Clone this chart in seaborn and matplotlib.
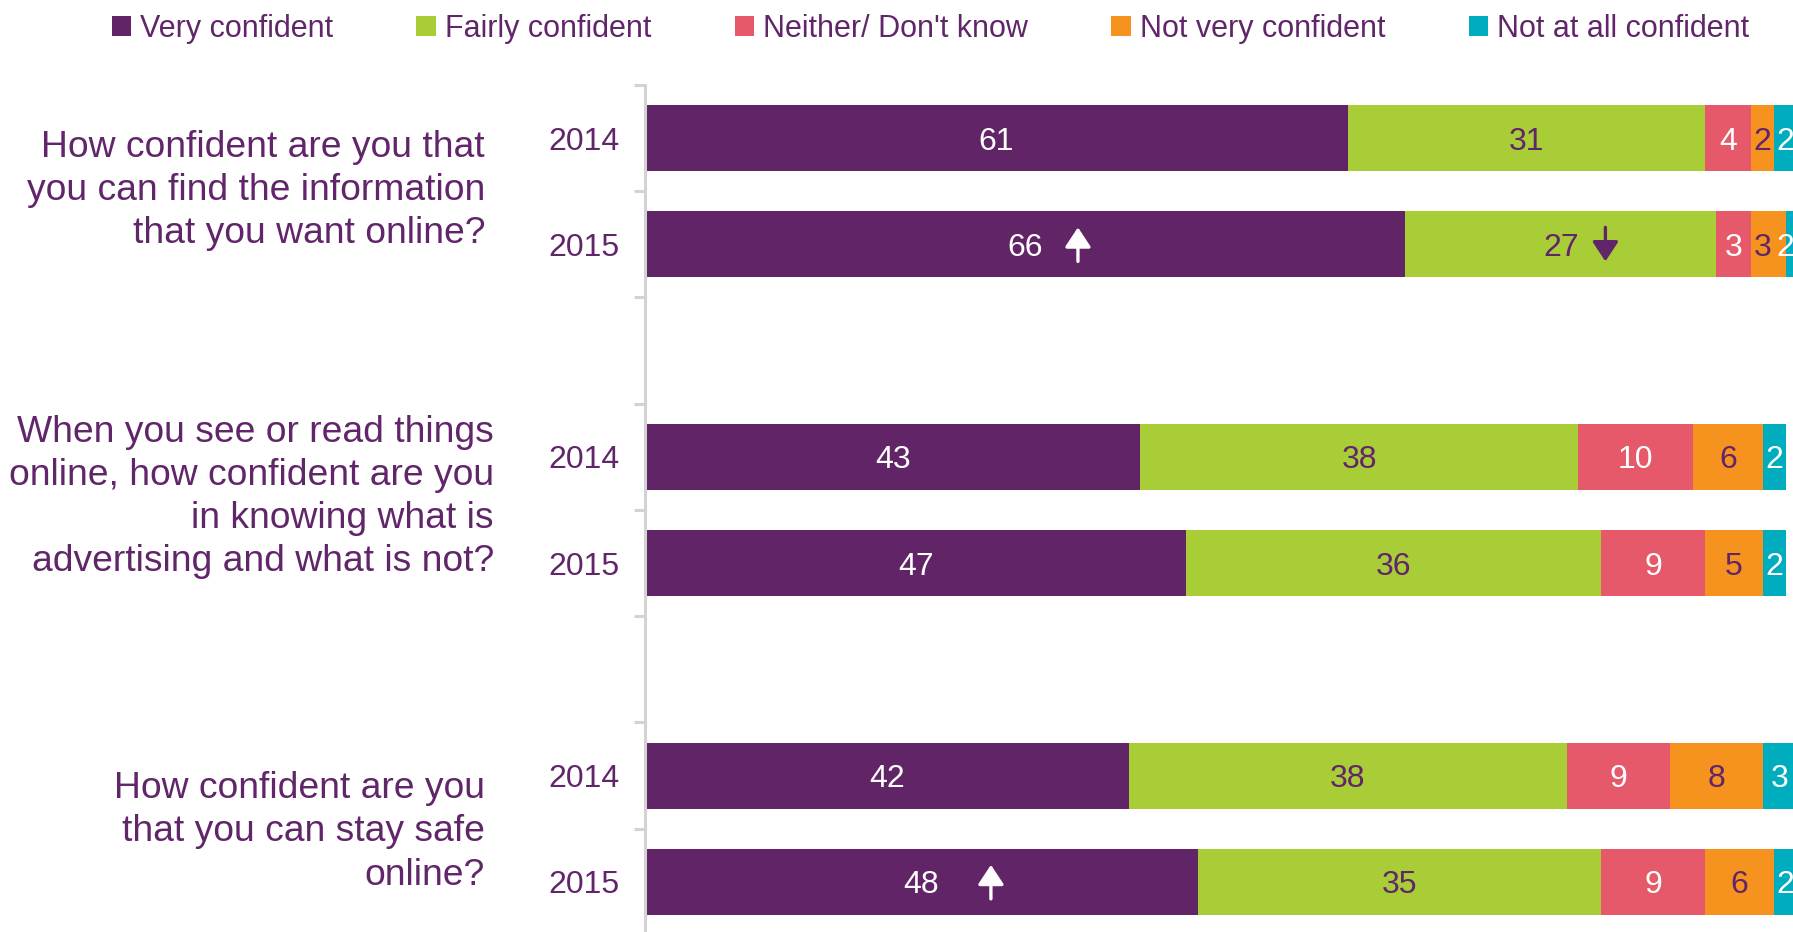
import matplotlib
matplotlib.use("Agg")
import matplotlib.pyplot as plt
import matplotlib.transforms as mtransforms
from matplotlib.patches import Patch
import numpy as np
import seaborn as sns

# ---- data -------------------------------------------------------------
questions = [
    "How confident are you that\nyou can find the information\nthat you want online?",
    "When you see or read things\nonline, how confident are you\nin knowing what is\nadvertising and what is not?",
    "How confident are you\nthat you can stay safe\nonline?",
]
years = ["2014", "2015"]
responses = ["Very confident", "Fairly confident", "Neither/ Don't know",
             "Not very confident", "Not at all confident"]

# one value per bar: Q1 2014, Q1 2015, Q2 2014, Q2 2015, Q3 2014, Q3 2015
very_confident = [61, 66, 43, 47, 42, 48]
fairly_confident = [31, 27, 38, 36, 38, 35]
neither_dont_know = [4, 3, 10, 9, 9, 9]
not_very_confident = [2, 3, 6, 5, 8, 6]
not_at_all_confident = [2, 2, 2, 2, 3, 2]

# significant year-on-year changes: (bar index, response index, direction)
changes = [(1, 0, "up"), (1, 1, "down"), (5, 0, "up")]

# ---- style ------------------------------------------------------------
sns.set_theme(style="white")
plt.rcParams["font.family"] = ["Liberation Sans", "DejaVu Sans"]

PURPLE = "#61256A"
colors = ["#612466", "#A8CD36", "#E5596A", "#F6921E", "#00ADBF"]
label_colors = ["white", PURPLE, "white", PURPLE, "white"]
GREY = "#D3D3D3"

values = np.array([very_confident, fairly_confident, neither_dont_know,
                   not_very_confident, not_at_all_confident], dtype=float)
ends = np.cumsum(values, axis=0)
starts = ends - values

# categorical rows, with an empty slot between question groups
row_ids = [f"Q{q + 1} {y}" for q in range(3) for y in years]
order = [row_ids[0], row_ids[1], "gap a", row_ids[2], row_ids[3], "gap b",
         row_ids[4], row_ids[5]]
positions = [order.index(r) for r in row_ids]

X_MAX = 99.64

fig = plt.figure(figsize=(17.93, 9.32), dpi=100)
ax = fig.add_axes([0.3597, -0.0032, 0.6403, 0.912])

# stacked bars: draw cumulative totals from the widest down
for k in reversed(range(len(responses))):
    sns.barplot(x=ends[k], y=row_ids, order=order, orient="y", color=colors[k],
                saturation=1, width=0.62, errorbar=None, linewidth=0,
                edgecolor="none", ax=ax)

# value labels: centred on their segment, kept inside the visible range
# and nudged left so that narrow neighbouring labels do not collide
for i, pos in enumerate(positions):
    next_x = X_MAX + 1.35
    label_x = [0.0] * len(responses)
    for k in reversed(range(len(responses))):
        xc = min(starts[k, i] + values[k, i] / 2, next_x - 2.0)
        label_x[k] = xc
        next_x = xc
    for k in range(len(responses)):
        ax.text(label_x[k], pos, f"{values[k, i]:.0f}",
                ha="center", va="center_baseline", fontsize=23,
                color=label_colors[k], clip_on=False)

# change arrows next to the labels
arrow_offsets = [38, 32, 50]  # points right of the label centre
for (i, k, d), off in zip(changes, arrow_offsets):
    xc = starts[k, i] + values[k, i] / 2
    trans = mtransforms.offset_copy(ax.transData, fig=fig, x=off, y=0, units="points")
    y0, y1 = (0.16, -0.16) if d == "up" else (-0.16, 0.16)
    ax.annotate("", xy=(xc, positions[i] + y1), xytext=(xc, positions[i] + y0),
                xycoords=trans, textcoords=trans,
                arrowprops=dict(arrowstyle="-|>,head_length=0.5,head_width=0.33",
                                mutation_scale=24, lw=2.4, shrinkA=0, shrinkB=0,
                                color=label_colors[k]))

# axes styling
ax.set_xlim(0, X_MAX)
ax.set_ylim(len(order) - 0.5, -0.5)
ax.set_xlabel("")
ax.set_ylabel("")
ax.set_xticks([])
ax.set_yticks(np.arange(-0.5, len(order), 1.0))
ax.set_yticklabels([])
ax.set_yticks(positions, minor=True)
ax.set_yticklabels([r.split()[1] for r in row_ids], minor=True)
ax.tick_params(axis="y", which="major", length=8, width=2.2, color=GREY, left=True)
ax.tick_params(axis="y", which="minor", length=0, pad=18, labelsize=23,
               labelcolor=PURPLE, left=True)
for side in ("top", "right", "bottom"):
    ax.spines[side].set_visible(False)
ax.spines["left"].set_color(GREY)
ax.spines["left"].set_linewidth(2.2)

# question text to the left of each pair of bars
qtrans = mtransforms.blended_transform_factory(fig.transFigure, ax.transData)
q_x = [0.2705, 0.2755, 0.2705]
q_y = [0.49, 3.375, 6.53]
for text, x, y in zip(questions, q_x, q_y):
    ax.text(x, y, text, transform=qtrans, ha="right", va="center",
            multialignment="right", fontsize=26.8, color=PURPLE, linespacing=1.3)

# legend along the top
handles = [Patch(facecolor=c, edgecolor="none") for c in colors]
fig.legend(handles, responses, loc="center", bbox_to_anchor=(0.519, 0.969),
           ncol=5, frameon=False, fontsize=22, labelcolor=PURPLE,
           handlelength=0.64, handleheight=0.64, handletextpad=0.3,
           columnspacing=2.72, borderaxespad=0)

fig.savefig("out.png", dpi=100)
